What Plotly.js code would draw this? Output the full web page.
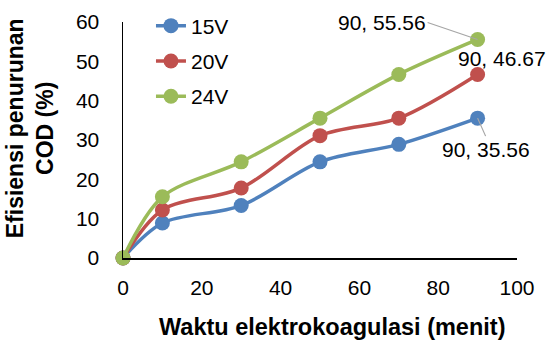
<!DOCTYPE html>
<html>
<head>
<meta charset="utf-8">
<script src="https://cdn.plot.ly/plotly-3.0.1.min.js"></script>
<style>
  html, body { margin: 0; padding: 0; background: #fff; }
  #chart { width: 548px; height: 341px; }
</style>
</head>
<body>
<div id="chart"></div>
<script>
// Waktu elektrokoagulasi (menit)
const waktu = [0, 10, 30, 50, 70, 90];

// Efisiensi penurunan COD (%) per tegangan
const cod15V = [0, 8.89, 13.33, 24.44, 28.89, 35.56];
const cod20V = [0, 12.22, 17.78, 31.11, 35.56, 46.67];
const cod24V = [0, 15.56, 24.44, 35.56, 46.67, 55.56];

const seriesNames = ['15V', '20V', '24V'];
const seriesColors = ['#4F81BD', '#C0504D', '#9BBB59'];
const seriesValues = [cod15V, cod20V, cod24V];

const fontFamily = 'Liberation Sans, Arial, sans-serif';
const tickSize = 21;
const titleSize = 23;

const traces = seriesValues.map((vals, i) => ({
  type: 'scatter',
  mode: 'lines+markers',
  name: seriesNames[i],
  legendgroup: seriesNames[i],
  x: waktu,
  y: vals,
  line: { color: seriesColors[i], width: 3.5, shape: 'spline', smoothing: 0.9 },
  marker: { color: seriesColors[i], size: 15 },
  cliponaxis: false
}));

// Labels on the last point of each series
const lastIdx = waktu.length - 1;
const labelText = v => waktu[lastIdx] + ', ' + v.toFixed(2);
const labelFont = { family: fontFamily, size: tickSize, color: '#000' };

const annotations = [
  {
    x: waktu[lastIdx], y: cod24V[lastIdx], xref: 'x', yref: 'y',
    text: labelText(cod24V[lastIdx]),
    showarrow: true, arrowhead: 0, arrowwidth: 1.2, arrowcolor: '#A6A6A6',
    ax: -50, ay: -17, xanchor: 'right', yanchor: 'middle',
    font: labelFont
  },
  {
    x: waktu[lastIdx], y: cod20V[lastIdx], xref: 'x', yref: 'y',
    text: labelText(cod20V[lastIdx]),
    showarrow: false, xanchor: 'center', yanchor: 'bottom',
    xshift: 24, yshift: 2,
    font: labelFont
  },
  {
    x: waktu[lastIdx], y: cod15V[lastIdx], xref: 'x', yref: 'y',
    text: labelText(cod15V[lastIdx]),
    showarrow: true, arrowhead: 0, arrowwidth: 1.2, arrowcolor: '#A6A6A6',
    ax: 8, ay: 18, xanchor: 'center', yanchor: 'top',
    font: labelFont
  },
  {
    text: '<b>Waktu elektrokoagulasi (menit)</b>',
    xref: 'paper', yref: 'paper', x: 0.53, y: -0.294,
    xanchor: 'center', yanchor: 'middle', showarrow: false,
    font: { family: fontFamily, size: 23.5, color: '#000' }
  },
  {
    text: '<b>Efisiensi penurunan<br>COD (%)</b>',
    xref: 'paper', yref: 'paper', x: -0.234, y: 0.549,
    xanchor: 'center', yanchor: 'middle', textangle: -90, showarrow: false,
    font: { family: fontFamily, size: titleSize, color: '#000' }
  }
];

const layout = {
  width: 548,
  height: 341,
  margin: { l: 123, r: 31, t: 22, b: 83, autoexpand: false },
  paper_bgcolor: '#fff',
  plot_bgcolor: '#fff',
  font: { family: fontFamily, size: tickSize, color: '#000' },
  showlegend: true,
  legend: {
    x: 0.071, y: 1.07, xanchor: 'left', yanchor: 'top',
    bgcolor: 'rgba(0,0,0,0)',
    tracegroupgap: 5,
    font: { family: fontFamily, size: tickSize, color: '#000' }
  },
  xaxis: {
    range: [0, 100],
    tickvals: [0, 20, 40, 60, 80, 100],
    showgrid: false, zeroline: false,
    showline: true, linecolor: '#000', linewidth: 1.5,
    ticks: '', ticklabelstandoff: 10,
    tickfont: { family: fontFamily, size: tickSize, color: '#000' }
  },
  yaxis: {
    range: [0, 60],
    tickvals: [0, 10, 20, 30, 40, 50, 60],
    showgrid: false, zeroline: false,
    showline: true, linecolor: '#000', linewidth: 1.5,
    ticks: '', ticklabelstandoff: 18,
    tickfont: { family: fontFamily, size: tickSize, color: '#000' }
  },
  annotations: annotations
};

Plotly.newPlot('chart', traces, layout, { displayModeBar: false, staticPlot: true });
</script>
</body>
</html>
